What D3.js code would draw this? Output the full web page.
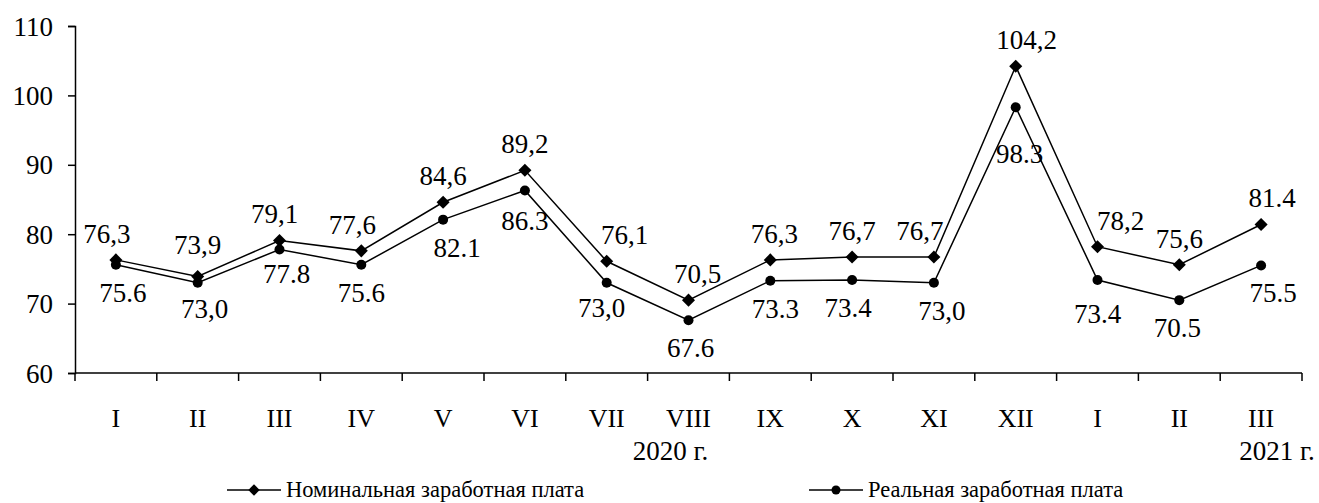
<!DOCTYPE html>
<html>
<head>
<meta charset="utf-8">
<script src="https://cdn.jsdelivr.net/npm/d3@7"></script>
<style>
  body { margin: 0; background: #fff; }
  svg text { font-family: "Liberation Serif", "Times New Roman", serif; fill: #000; }
</style>
</head>
<body>
<div id="chart"></div>
<script>
var months = ['I', 'II', 'III', 'IV', 'V', 'VI', 'VII', 'VIII', 'IX', 'X', 'XI', 'XII', 'I', 'II', 'III'];
var nominal = [76.3, 73.9, 79.1, 77.6, 84.6, 89.2, 76.1, 70.5, 76.3, 76.7, 76.7, 104.2, 78.2, 75.6, 81.4];
var real = [75.6, 73.0, 77.8, 75.6, 82.1, 86.3, 73.0, 67.6, 73.3, 73.4, 73.0, 98.3, 73.4, 70.5, 75.5];
var nominalLabels = ['76,3', '73,9', '79,1', '77,6', '84,6', '89,2', '76,1', '70,5', '76,3', '76,7', '76,7', '104,2', '78,2', '75,6', '81.4'];
var realLabels = ['75.6', '73,0', '77.8', '75.6', '82.1', '86.3', '73,0', '67.6', '73.3', '73.4', '73,0', '98.3', '73.4', '70.5', '75.5'];
var yTicks = [60, 70, 80, 90, 100, 110];
var years = [{text: '2020 г.', at: 7}, {text: '2021 г.', at: 14}];
var seriesNames = ['Номинальная заработная плата', 'Реальная заработная плата'];

// label nudges (px) where the original moved labels off the default spot
var nomNudge = [[-9, 0], [0, -6], [-5, 0], [-9, 0], [0, 0], [0, 0], [18, 0], [9, 0], [4, 0], [0, 0], [-14, 0], [11, 0], [23, 0], [0, 0], [11, 0]];
var realNudge = [[7, 0], [7, -2], [7, -3], [0, 0], [14, 0], [0, 3], [-5, -3], [2, 0], [5, 0], [-4, 0], [8, 0], [4, 19], [0, 6], [-2, 0], [12, 0]];

var WIDTH = 1319, HEIGHT = 503;
var mLeft = 75, mRight = 1302, mTop = 26, mBottom = 373;
var NUM_FONT = 27, MONTH_FONT = 26;

var svg = d3.select('#chart').append('svg')
    .attr('width', WIDTH)
    .attr('height', HEIGHT);

var x = d3.scaleBand().domain(d3.range(months.length)).range([mLeft, mRight]).padding(0);
var y = d3.scaleLinear().domain([60, 110]).range([mBottom, mTop]);
var cx = function (i) { return x(i) + x.bandwidth() / 2; };

// y axis
var yAxis = svg.append('g')
    .attr('transform', 'translate(' + mLeft + ',0)')
    .call(d3.axisLeft(y).tickValues(yTicks).tickSize(7).tickPadding(15).tickFormat(d3.format('d')));
yAxis.select('.domain').attr('stroke', '#000').attr('stroke-width', 1.5);
yAxis.selectAll('.tick line').attr('stroke', '#000').attr('stroke-width', 1.5);
yAxis.selectAll('.tick text').attr('font-size', NUM_FONT).attr('font-family', null).attr('dy', '0.34em');

// x axis: line + ticks at band edges
var xAxis = svg.append('g');
xAxis.append('line')
    .attr('x1', mLeft).attr('x2', mRight)
    .attr('y1', mBottom).attr('y2', mBottom)
    .attr('stroke', '#000').attr('stroke-width', 1.5);
xAxis.selectAll('line.tk')
    .data(d3.range(months.length + 1))
    .enter().append('line')
    .attr('class', 'tk')
    .attr('x1', function (i) { return i < months.length ? x(i) : mRight; })
    .attr('x2', function (i) { return i < months.length ? x(i) : mRight; })
    .attr('y1', mBottom).attr('y2', mBottom + 8)
    .attr('stroke', '#000').attr('stroke-width', 1.5);
xAxis.selectAll('text.month')
    .data(months)
    .enter().append('text')
    .attr('class', 'month')
    .attr('x', function (d, i) { return cx(i); })
    .attr('y', 427)
    .attr('text-anchor', 'middle')
    .attr('font-size', MONTH_FONT)
    .text(function (d) { return d; });
xAxis.selectAll('text.year')
    .data(years)
    .enter().append('text')
    .attr('class', 'year')
    .attr('x', function (d) { return d.at === 7 ? cx(d.at) - 18 : cx(d.at) + 16; })
    .attr('y', 460)
    .attr('text-anchor', 'middle')
    .attr('font-size', NUM_FONT)
    .text(function (d) { return d.text; });

var line = d3.line()
    .x(function (d, i) { return cx(i); })
    .y(function (d) { return y(d); });

// rotated square = the Excel-style diamond marker
var diamond = d3.symbol().type(d3.symbolSquare).size(85);

// nominal
svg.append('path').datum(nominal)
    .attr('d', line).attr('fill', 'none').attr('stroke', '#000').attr('stroke-width', 1.5);
svg.selectAll('path.nom')
    .data(nominal).enter().append('path')
    .attr('class', 'nom')
    .attr('d', diamond)
    .attr('transform', function (d, i) { return 'translate(' + cx(i) + ',' + y(d) + ')rotate(45)'; })
    .attr('fill', '#000');

// real
svg.append('path').datum(real)
    .attr('d', line).attr('fill', 'none').attr('stroke', '#000').attr('stroke-width', 1.5);
svg.selectAll('circle.real')
    .data(real).enter().append('circle')
    .attr('class', 'real')
    .attr('cx', function (d, i) { return cx(i); })
    .attr('cy', function (d) { return y(d); })
    .attr('r', 5)
    .attr('fill', '#000');

// value labels
svg.selectAll('text.nomlab')
    .data(nominal).enter().append('text')
    .attr('class', 'nomlab')
    .attr('x', function (d, i) { return cx(i) + nomNudge[i][0]; })
    .attr('y', function (d, i) { return y(d) - 17 + nomNudge[i][1]; })
    .attr('text-anchor', 'middle')
    .attr('font-size', NUM_FONT)
    .text(function (d, i) { return nominalLabels[i]; });
svg.selectAll('text.reallab')
    .data(real).enter().append('text')
    .attr('class', 'reallab')
    .attr('x', function (d, i) { return cx(i) + realNudge[i][0]; })
    .attr('y', function (d, i) { return y(d) + 37 + realNudge[i][1]; })
    .attr('text-anchor', 'middle')
    .attr('font-size', NUM_FONT)
    .text(function (d, i) { return realLabels[i]; });

// legend
var legendX = [227, 809];
var legend = svg.selectAll('g.legend')
    .data(seriesNames).enter().append('g')
    .attr('class', 'legend')
    .attr('transform', function (d, i) { return 'translate(' + legendX[i] + ',490)'; });
legend.append('line')
    .attr('x1', 0).attr('x2', 54).attr('y1', 0).attr('y2', 0)
    .attr('stroke', '#000').attr('stroke-width', 1.5);
legend.filter(function (d, i) { return i === 0; }).append('path')
    .attr('d', d3.symbol().type(d3.symbolSquare).size(65))
    .attr('transform', 'translate(27,0)rotate(45)')
    .attr('fill', '#000');
legend.filter(function (d, i) { return i === 1; }).append('circle')
    .attr('cx', 27).attr('cy', 0).attr('r', 4.5)
    .attr('fill', '#000');
legend.append('text')
    .attr('x', 59)
    .attr('y', 7)
    .attr('font-size', 22.5)
    .text(function (d) { return d; });
</script>
</body>
</html>
